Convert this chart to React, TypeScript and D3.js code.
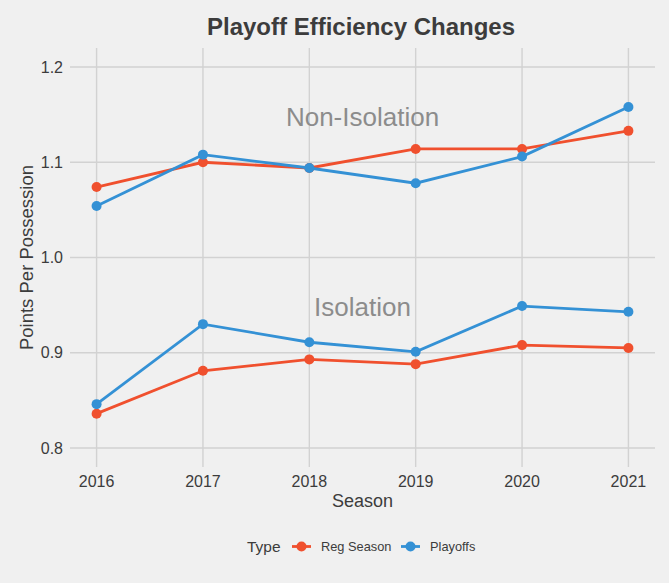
import React from "react";
import * as d3 from "d3";

// values
const seasons = [2016, 2017, 2018, 2019, 2020, 2021];
const regNonIso = [1.074, 1.1, 1.094, 1.114, 1.114, 1.133];
const playoffNonIso = [1.054, 1.108, 1.094, 1.078, 1.106, 1.158];
const regIso = [0.836, 0.881, 0.893, 0.888, 0.908, 0.905];
const playoffIso = [0.846, 0.93, 0.911, 0.901, 0.949, 0.943];
const yTicks = [0.8, 0.9, 1.0, 1.1, 1.2];
const legendTypes = ["Reg Season", "Playoffs"];
const annotations = [
  { label: "Non-Isolation", x: 2018.5, y: 1.15 },
  { label: "Isolation", x: 2018.5, y: 0.95 },
];

const W = 669;
const H = 583;
const FONT = "'Liberation Sans', Arial, Helvetica, sans-serif";
const BG = "#f0f0f0";
const GRID = "#d2d2d2";
const TEXT = "#3c3c3c";
const colors: Record<string, string> = {
  "Reg Season": "#f0502e",
  Playoffs: "#3491d5",
};

type Series = { type: string; values: number[] };
const series: Series[] = [
  { type: "Reg Season", values: regNonIso },
  { type: "Playoffs", values: playoffNonIso },
  { type: "Reg Season", values: regIso },
  { type: "Playoffs", values: playoffIso },
];

export default function App() {
  const panel = { left: 70, right: 655, top: 48, bottom: 467 };

  const x = d3
    .scaleLinear()
    .domain([2015.75, 2021.25])
    .range([panel.left, panel.right]);
  const y = d3
    .scaleLinear()
    .domain([0.78, 1.22])
    .range([panel.bottom, panel.top]);

  const line = d3
    .line<number>()
    .x((_, i) => x(seasons[i]))
    .y((d) => y(d));

  return (
    <svg
      width={W}
      height={H}
      style={{ position: "absolute", left: 0, top: 0 }}
      fontFamily={FONT}
    >
      <rect width={W} height={H} fill={BG} />

      {/* grid */}
      <g stroke={GRID} strokeWidth={1.4}>
        {yTicks.map((t) => (
          <line key={t} x1={panel.left} x2={panel.right} y1={y(t)} y2={y(t)} />
        ))}
        {seasons.map((s) => (
          <line key={s} x1={x(s)} x2={x(s)} y1={panel.top} y2={panel.bottom} />
        ))}
      </g>

      {/* annotations */}
      {annotations.map((a) => (
        <text
          key={a.label}
          x={x(a.x)}
          y={y(a.y)}
          dy={11}
          textAnchor="middle"
          fontSize={26}
          fill="#8c8c8c"
        >
          {a.label}
        </text>
      ))}

      {/* lines and points */}
      {series.map((s, i) => (
        <g key={i}>
          <path
            d={line(s.values) ?? ""}
            fill="none"
            stroke={colors[s.type]}
            strokeWidth={2.8}
          />
          {s.values.map((v, j) => (
            <circle
              key={j}
              cx={x(seasons[j])}
              cy={y(v)}
              r={5}
              fill={colors[s.type]}
            />
          ))}
        </g>
      ))}

      {/* y axis labels */}
      {yTicks.map((t) => (
        <text
          key={t}
          x={63}
          y={y(t)}
          dy="0.36em"
          textAnchor="end"
          fontSize={16}
          fill={TEXT}
        >
          {t.toFixed(1)}
        </text>
      ))}

      {/* x axis labels */}
      {seasons.map((s) => (
        <text
          key={s}
          x={x(s)}
          y={487}
          textAnchor="middle"
          fontSize={16}
          fill={TEXT}
        >
          {s}
        </text>
      ))}

      {/* axis titles */}
      <text
        x={(panel.left + panel.right) / 2}
        y={507}
        textAnchor="middle"
        fontSize={18}
        fill={TEXT}
      >
        Season
      </text>
      <text
        transform={`translate(33, ${(panel.top + panel.bottom) / 2}) rotate(-90)`}
        textAnchor="middle"
        fontSize={18.5}
        fill={TEXT}
      >
        Points Per Possession
      </text>

      {/* title */}
      <text
        x={361}
        y={35}
        textAnchor="middle"
        fontSize={24}
        fontWeight="bold"
        fill={TEXT}
      >
        Playoff Efficiency Changes
      </text>

      {/* legend */}
      <g>
        <text x={247} y={552} fontSize={15.5} fill={TEXT}>
          Type
        </text>
        {legendTypes.map((t, i) => {
          const kx = i === 0 ? 292 : 401;
          return (
            <g key={t}>
              <line
                x1={kx}
                x2={kx + 19}
                y1={546.5}
                y2={546.5}
                stroke={colors[t]}
                strokeWidth={2.8}
              />
              <circle cx={kx + 9.5} cy={546.5} r={5} fill={colors[t]} />
              <text x={kx + 29} y={551} fontSize={12.8} fill={TEXT}>
                {t}
              </text>
            </g>
          );
        })}
      </g>
    </svg>
  );
}
